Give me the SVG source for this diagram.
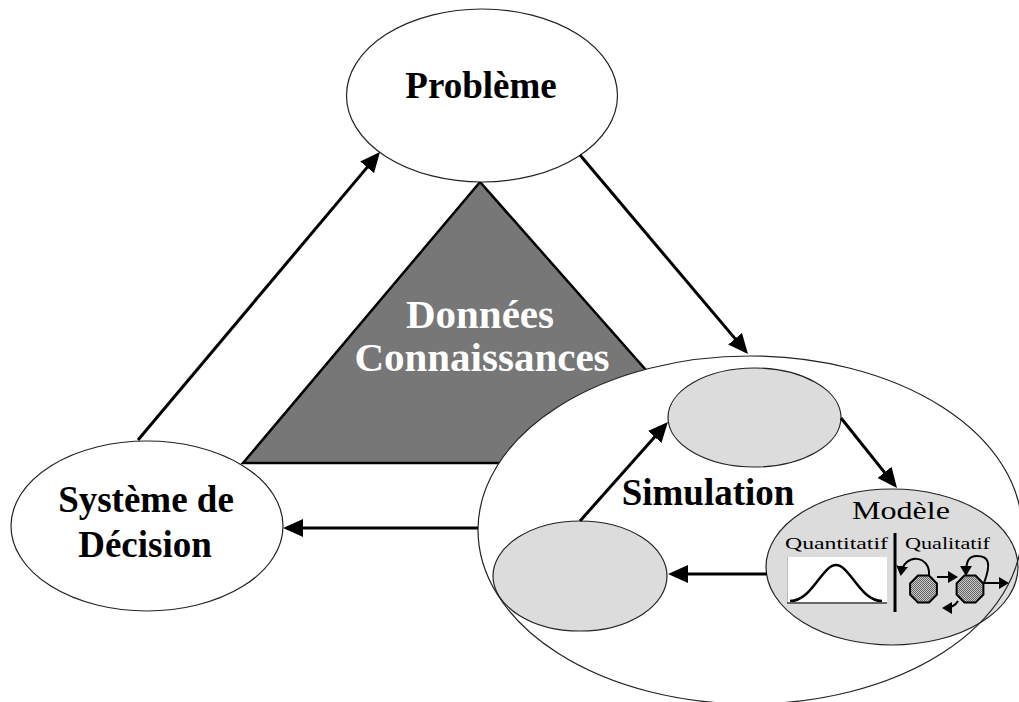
<svg xmlns="http://www.w3.org/2000/svg" width="1019" height="702" viewBox="0 0 1019 702">
<style>
.bg{fill:#ffffff}
.ell{fill:#ffffff;stroke:#222;stroke-width:1.2}
.gell{fill:#dcdcdc;stroke:#222;stroke-width:1.2}
.t{font-family:"Liberation Serif","Times New Roman",serif;font-weight:bold;font-size:37px;text-anchor:middle;fill:#000}
.tw{font-family:"Liberation Serif","Times New Roman",serif;font-weight:bold;font-size:41px;text-anchor:middle;fill:#fff}
.tr{font-family:"Liberation Serif","Times New Roman",serif;fill:#000}
.conn{fill:none;stroke:#000;stroke-width:3;marker-end:url(#ah)}
.sm{fill:none;stroke:#000;stroke-width:2;marker-end:url(#ahs)}
.oct{fill:url(#dots);stroke:#000;stroke-width:2}
</style>
<defs>
<marker id="ah" viewBox="0 0 20 18" refX="16" refY="9" markerWidth="20" markerHeight="18" markerUnits="userSpaceOnUse" orient="auto">
<path d="M0,0 L20,9 L0,18 z" fill="#000"/>
</marker>
<marker id="ahs" viewBox="0 0 10 12" refX="8" refY="6" markerWidth="10" markerHeight="12" markerUnits="userSpaceOnUse" orient="auto">
<path d="M0,0 L10,6 L0,12 z" fill="#000"/>
</marker>
<pattern id="dots" width="2" height="2" patternUnits="userSpaceOnUse">
<rect width="2" height="2" fill="#c8c8c8"/>
<rect width="1" height="1" fill="#666"/>
<rect x="1" y="1" width="1" height="1" fill="#666"/>
</pattern>
</defs>
<rect class="bg" x="0" y="0" width="1019" height="702"/>

<g id="donnees">
<polygon points="480,182 243,463 728,463" fill="#777777" stroke="#000" stroke-width="2.5" stroke-linejoin="miter"/>
<text class="tw" x="480" y="328">Données</text>
<text class="tw" x="482" y="371">Connaissances</text>
</g>

<g id="probleme">
<ellipse class="ell" cx="482" cy="95.5" rx="135.5" ry="86.5"/>
<text class="t" x="481" y="98">Problème</text>
</g>

<g id="systeme">
<ellipse class="ell" cx="147" cy="526" rx="136" ry="85"/>
<text class="t" x="146" y="512">Système de</text>
<text class="t" x="145" y="557">Décision</text>
</g>

<g id="simulation">
<ellipse cx="750" cy="530" rx="272" ry="174" fill="#fff" stroke="none"/>
<g id="sim-haut">
<ellipse class="gell" cx="754.5" cy="417.5" rx="86.5" ry="49.5"/>
</g>
<g id="sim-gauche">
<ellipse class="gell" cx="580" cy="576" rx="87" ry="55"/>
</g>
<g id="modele">
<ellipse class="gell" cx="892" cy="567" rx="126" ry="78"/>
<text class="tr" x="852" y="519" font-size="25" textLength="98" lengthAdjust="spacingAndGlyphs">Modèle</text>
<text class="tr" x="785" y="549" font-size="17" textLength="103" lengthAdjust="spacingAndGlyphs">Quantitatif</text>
<text class="tr" x="905" y="549" font-size="17" textLength="85" lengthAdjust="spacingAndGlyphs">Qualitatif</text>
<line x1="895" y1="533" x2="895" y2="612" stroke="#000" stroke-width="3"/>
<rect x="787" y="557" width="100" height="47" fill="#fff"/>
<line x1="787.5" y1="557" x2="787.5" y2="603" stroke="#bbb" stroke-width="1"/>
<line x1="787" y1="603" x2="887" y2="603" stroke="#333" stroke-width="1.5"/>
<path d="M790,601 C812,601 822,565 836,565 C850,565 860,601 882,601" fill="none" stroke="#000" stroke-width="2.5"/>
<polygon class="oct" points="936.9,583.45 929.05,575.6 917.95,575.6 910.1,583.45 910.1,594.55 917.95,602.4 929.05,602.4 936.9,594.55"/>
<polygon class="oct" points="983.4,583.45 975.55,575.6 964.45,575.6 956.6,583.45 956.6,594.55 964.45,602.4 975.55,602.4 983.4,594.55"/>
<path class="sm" d="M929,576 C931,555 904,552 901,574"/>
<path class="sm" d="M937,577 L956,577"/>
<path class="sm" d="M984,583 C992,562 988,556 977,556 C968,556 966,562 966,574"/>
<path class="sm" d="M984,583 L1007,583"/>
<path class="sm" d="M958,601 Q954,608 944,608"/>
</g>
<ellipse cx="750" cy="530" rx="272" ry="174" fill="none" stroke="#222" stroke-width="1.2"/>
<text class="t" x="708" y="505">Simulation</text>
</g>

<g id="connectors">
<line class="conn" x1="138" y1="440" x2="377.4" y2="155.1"/>
<line class="conn" x1="580" y1="155" x2="745.4" y2="350.9"/>
<line class="conn" x1="478" y1="528" x2="287" y2="528"/>
<line class="conn" x1="580" y1="521" x2="665.3" y2="425"/>
<line class="conn" x1="841" y1="418" x2="894.5" y2="484.9"/>
<line class="conn" x1="767" y1="574" x2="672" y2="574"/>
</g>
</svg>
